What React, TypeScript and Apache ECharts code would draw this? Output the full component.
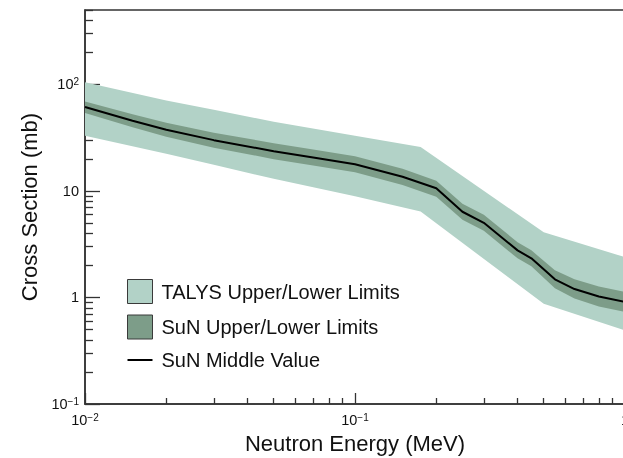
import React, { useEffect, useRef } from 'react';
import * as echarts from 'echarts';

// SuN data (energy in MeV, cross section in mb)
const energySun = [0.01, 0.015, 0.02, 0.03, 0.05, 0.07, 0.1, 0.15, 0.2, 0.25, 0.3, 0.4, 0.45, 0.55, 0.65, 0.8, 1.0];
const sunMiddle = [61.5, 45.7, 37.6, 30.0, 23.6, 20.6, 17.8, 13.6, 10.6, 6.38, 5.02, 2.77, 2.33, 1.48, 1.2, 1.02, 0.91];
const sunUpper = [69.3, 52.6, 43.7, 35.2, 28.1, 24.5, 21.2, 16.2, 12.5, 7.59, 5.97, 3.3, 2.77, 1.8, 1.48, 1.27, 1.13];
const sunLower = [54.0, 39.7, 32.3, 25.5, 19.9, 17.3, 15.0, 11.4, 8.81, 5.36, 4.23, 2.33, 1.96, 1.22, 0.98, 0.825, 0.732];

// TALYS band
const energyTalys = [0.01, 0.02, 0.03, 0.05, 0.1, 0.175, 0.5, 1.0];
const talysUpper = [104.6, 70.5, 58.0, 44.7, 33.0, 25.8, 4.09, 2.39];
const talysLower = [33.0, 22.4, 17.6, 13.0, 8.91, 6.42, 0.871, 0.49];

// Ticks
const xMajorTicks = [0.01, 0.1, 1];
const xTickLabels = ['{b|10}{s|−2}', '{b|10}{s|−1}', '{b|1}'];
const xMinorTicks = [0.02, 0.03, 0.04, 0.05, 0.06, 0.07, 0.08, 0.09, 0.2, 0.3, 0.4, 0.5, 0.6, 0.7, 0.8, 0.9];
const yMajorTicks = [0.1, 1, 10, 100];
const yTickLabels = ['{b|10}{s|−1}', '{b|1}', '{b|10}', '{b|10}{s|2}'];
const yMinorTicks = [0.2, 0.3, 0.4, 0.5, 0.6, 0.7, 0.8, 0.9, 2, 3, 4, 5, 6, 7, 8, 9, 20, 30, 40, 50, 60, 70, 80, 90, 200, 300, 400, 500];

const seriesNames = ['TALYS Upper/Lower Limits', 'SuN Upper/Lower Limits', 'SuN Middle Value'];
const xTitle = 'Neutron Energy (MeV)';
const yTitle = 'Cross Section (mb)';

function bandSeries(name: string, xs: number[], lo: number[], hi: number[], color: string) {
  return {
    name,
    type: 'custom',
    silent: true,
    clip: true,
    itemStyle: { color },
    encode: { x: 0, y: [1, 2] },
    data: xs.map((e, i) => [e, lo[i], hi[i]]),
    renderItem: (params: any, api: any) => {
      if (params.dataIndex !== 0) return null;
      const pts: number[][] = [];
      for (let i = 0; i < xs.length; i++) pts.push(api.coord([xs[i], hi[i]]));
      for (let i = xs.length - 1; i >= 0; i--) pts.push(api.coord([xs[i], lo[i]]));
      return { type: 'polygon', shape: { points: pts }, style: { fill: color, stroke: 'none' } };
    },
  };
}

export default function App() {
  const ref = useRef<HTMLDivElement>(null);
  useEffect(() => {
    const chart = echarts.init(ref.current!, undefined, { renderer: 'svg' });
    const font = '"Liberation Sans", Arial, Helvetica, sans-serif';
    const axisColor = '#333333';
    const talysColor = '#b2d2c7';
    const sunColor = '#7d9d89';
    const rich = {
      b: { fontSize: 14.5, fontFamily: font, color: '#111', lineHeight: 16 },
      s: { fontSize: 10, fontFamily: font, color: '#111', verticalAlign: 'top', lineHeight: 10 },
    };
    const fmt = (ticks: number[], labels: string[]) => (v: number) => {
      const i = ticks.findIndex((t) => Math.abs(t - v) / t < 1e-6);
      return i >= 0 ? labels[i] : '';
    };
    chart.setOption({
      animation: false,
      grid: {
        left: 85, top: 10, width: 540, height: 394, show: true, borderColor: axisColor, borderWidth: 1.5,
        backgroundColor: 'transparent', containLabel: false, outerBoundsMode: 'none',
      },
      xAxis: [
        {
          type: 'log', logBase: 10, min: 0.01, max: 1, position: 'bottom',
          splitLine: { show: false },
          axisLine: { show: true, lineStyle: { color: axisColor, width: 1.5 } },
          axisTick: { show: true, inside: true, length: 11, customValues: xMajorTicks, lineStyle: { color: axisColor, width: 1.3 } },
          axisLabel: { show: true, margin: 8, customValues: xMajorTicks, formatter: fmt(xMajorTicks, xTickLabels), rich },
          name: xTitle, nameLocation: 'middle', nameGap: 28,
          nameTextStyle: { fontSize: 22, fontFamily: font, color: '#111' },
        },
        {
          type: 'log', logBase: 10, min: 0.01, max: 1, position: 'bottom',
          splitLine: { show: false },
          axisLine: { show: false },
          axisTick: { show: true, inside: true, length: 6, customValues: xMinorTicks, lineStyle: { color: axisColor, width: 1.3 } },
          axisLabel: { show: false },
        },
      ],
      yAxis: [
        {
          type: 'log', logBase: 10, min: 0.1, max: 500, position: 'left',
          splitLine: { show: false },
          axisLine: { show: true, lineStyle: { color: axisColor, width: 1.5 } },
          axisTick: { show: true, inside: true, length: 15, customValues: yMajorTicks, lineStyle: { color: axisColor, width: 1.3 } },
          axisLabel: { show: true, margin: 6, customValues: yMajorTicks, formatter: fmt(yMajorTicks, yTickLabels), rich },
          name: yTitle, nameLocation: 'middle', nameGap: 41,
          nameTextStyle: { fontSize: 22, fontFamily: font, color: '#111' },
        },
        {
          type: 'log', logBase: 10, min: 0.1, max: 500, position: 'left',
          splitLine: { show: false },
          axisLine: { show: false },
          axisTick: { show: true, inside: true, length: 8, customValues: yMinorTicks, lineStyle: { color: axisColor, width: 1.3 } },
          axisLabel: { show: false },
        },
      ],
      legend: {
        left: 127, top: 279, orient: 'vertical', itemWidth: 25, itemHeight: 24, itemGap: 10.5, padding: 0,
        selectedMode: false,
        textStyle: { fontSize: 20, fontFamily: font, color: '#111', padding: [0, 0, 0, 4] },
        data: [
          { name: seriesNames[0], icon: 'rect', itemStyle: { color: talysColor, borderColor: '#3a3a3a', borderWidth: 1 } },
          { name: seriesNames[1], icon: 'rect', itemStyle: { color: sunColor, borderColor: '#3a3a3a', borderWidth: 1 } },
          { name: seriesNames[2], icon: 'path://M0,0H25V2H0Z', itemStyle: { color: '#000', borderWidth: 0 } },
        ],
      },
      series: [
        bandSeries(seriesNames[0], energyTalys, talysLower, talysUpper, talysColor),
        bandSeries(seriesNames[1], energySun, sunLower, sunUpper, sunColor),
        {
          name: seriesNames[2], type: 'line', symbol: 'none', showSymbol: false, silent: true,
          data: energySun.map((e, i) => [e, sunMiddle[i]]),
          lineStyle: { color: '#000', width: 2 }, itemStyle: { color: '#000' },
        },
      ],
    });
    return () => chart.dispose();
  }, []);
  return <div ref={ref} style={{ position: 'fixed', left: 0, top: 0, width: 623, height: 458 }} />;
}
